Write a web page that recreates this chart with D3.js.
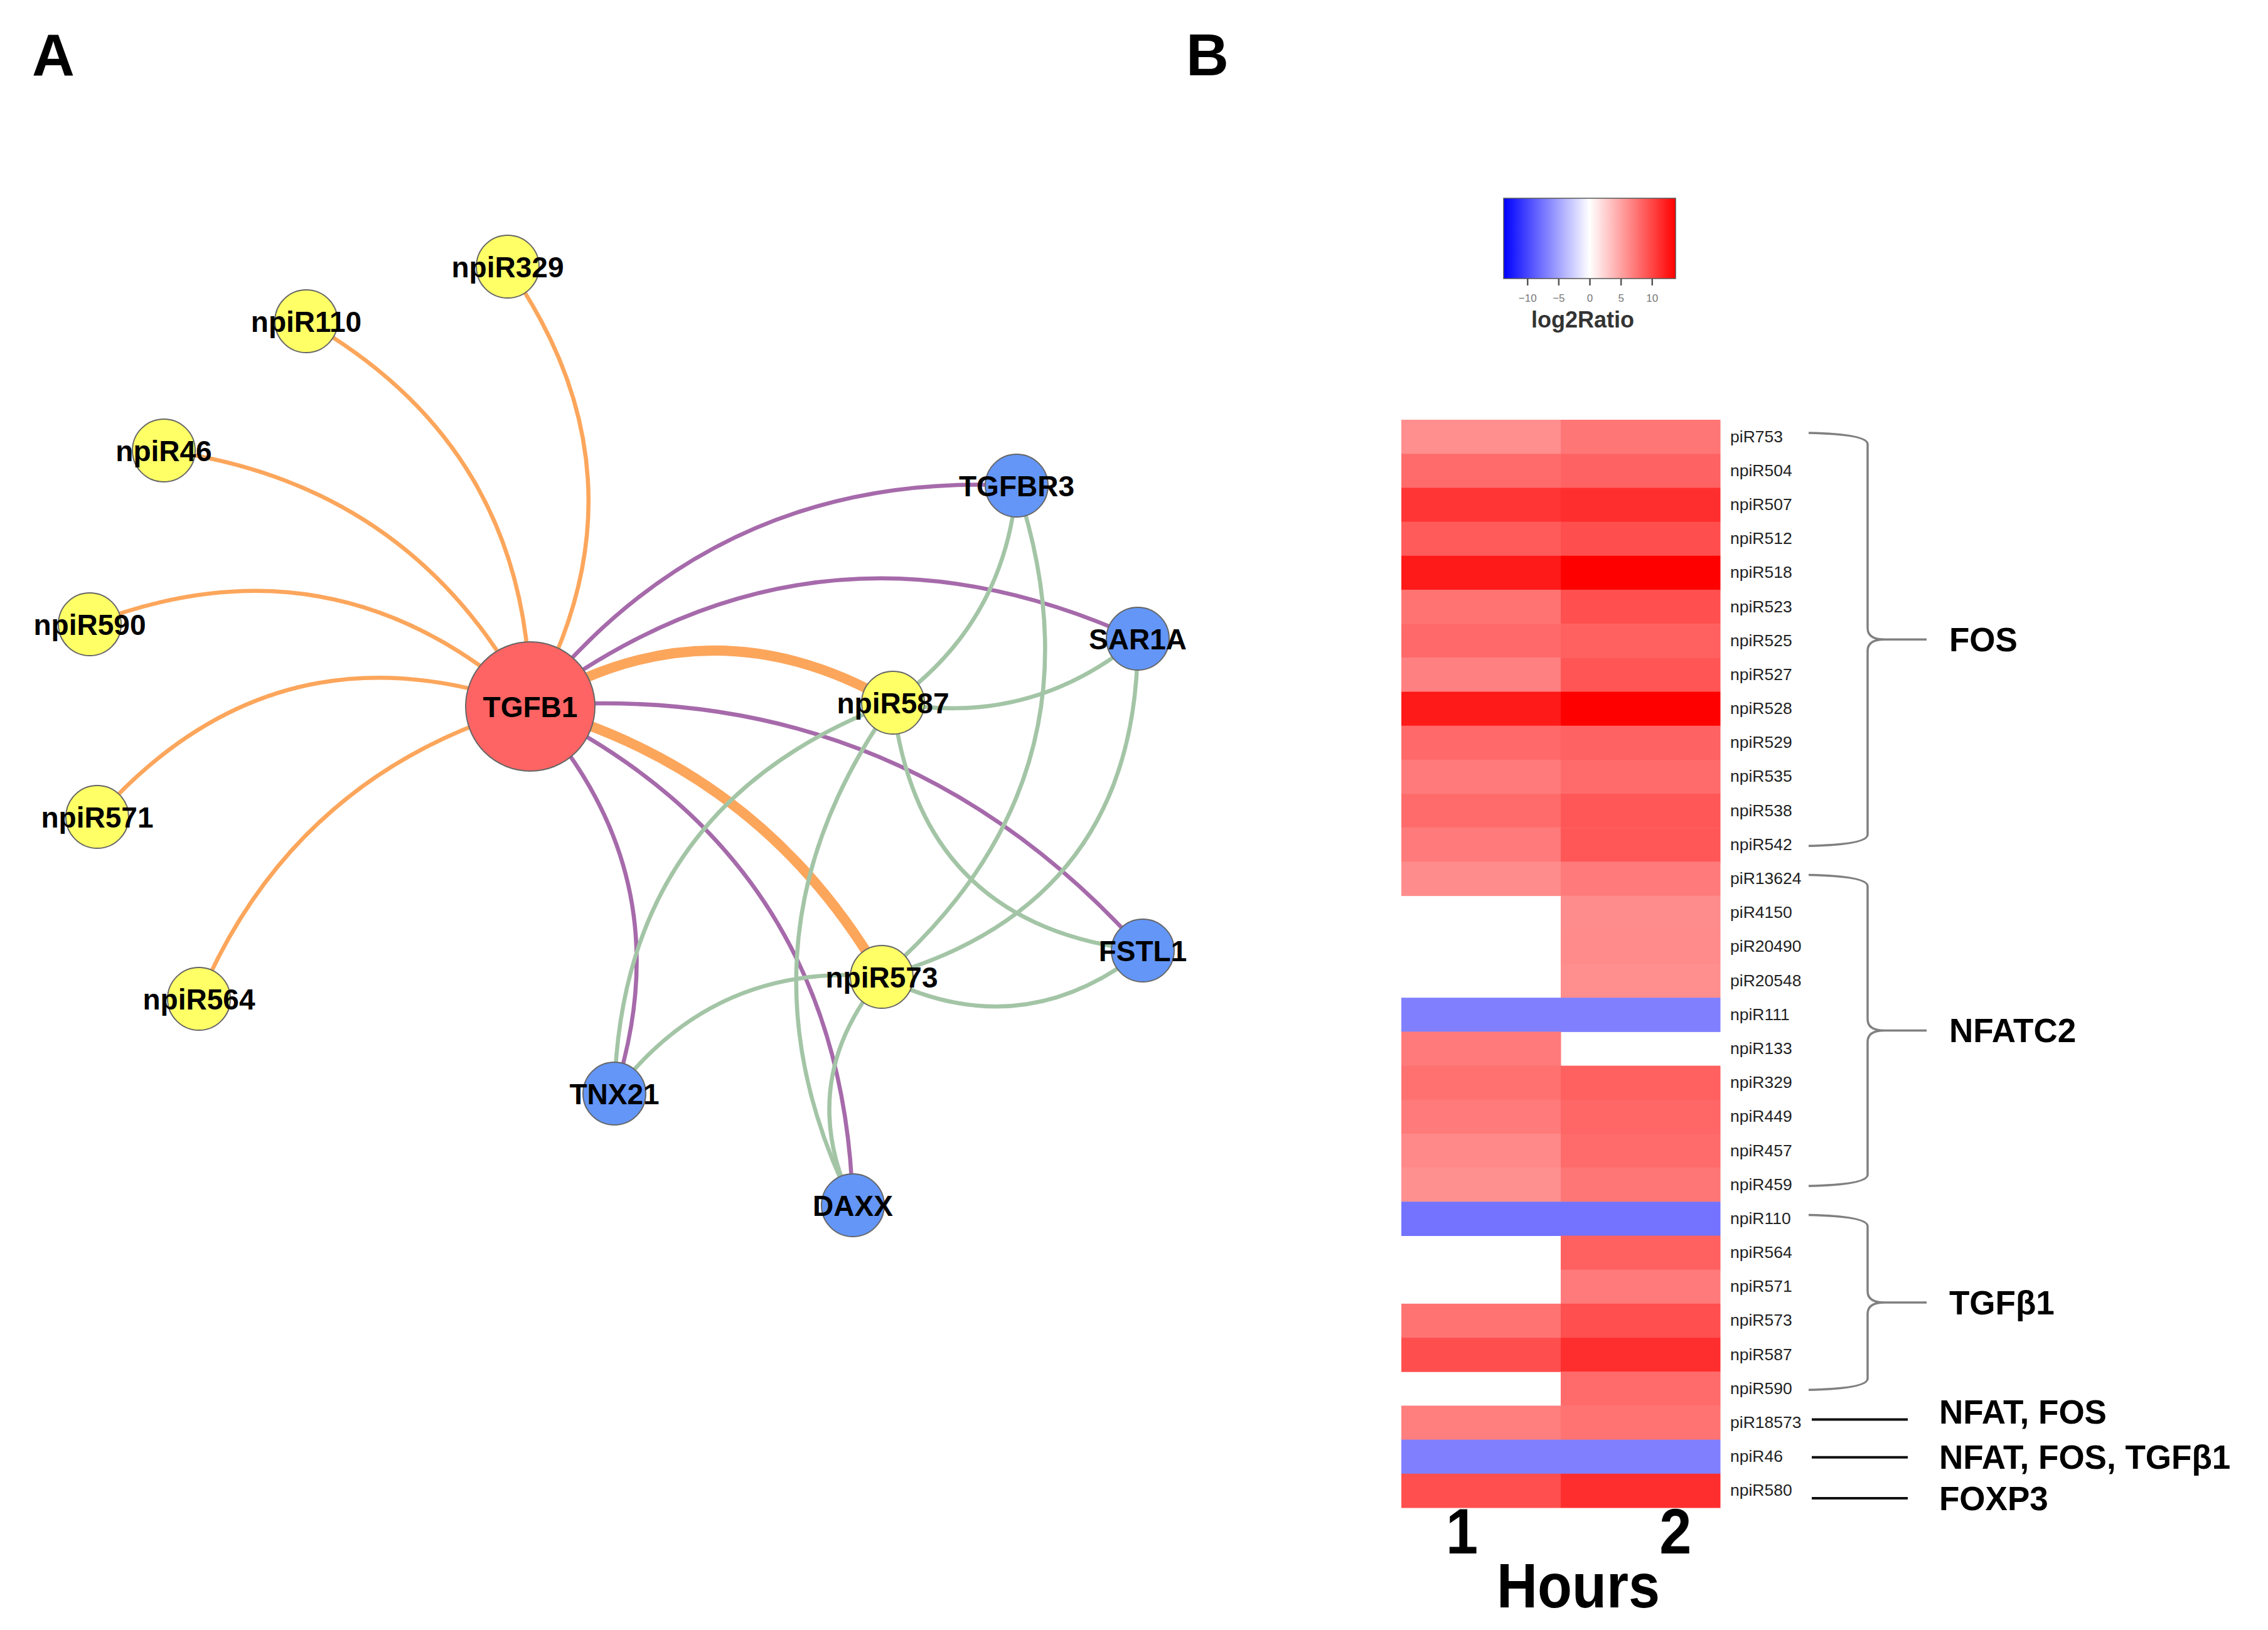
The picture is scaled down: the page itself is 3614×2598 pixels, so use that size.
<!DOCTYPE html>
<html><head><meta charset="utf-8">
<script src="https://cdn.jsdelivr.net/npm/d3@7"></script>
<style>body{margin:0;background:#fff}svg{display:block}</style>
</head><body>
<script>
// ---------- Panel A: network data ----------
const nodeNames = ["TGFB1","npiR329","npiR110","npiR46","npiR590","npiR571","npiR564","npiR587","npiR573","TGFBR3","SAR1A","FSTL1","TNX21","DAXX"];
const nodeKinds = ["hub","mirna","mirna","mirna","mirna","mirna","mirna","mirna","mirna","gene","gene","gene","gene","gene"];
// layout coordinates (layout units)
const nodeX = [84.5, 80.9, 48.8, 26.1, 14.3, 15.5, 31.7, 142.3, 140.5, 162.0, 181.3, 182.1, 97.9, 135.9];
const nodeY = [112.6, 42.5, 51.2, 71.8, 99.5, 130.2, 159.2, 112.0, 155.7, 77.4, 101.8, 151.5, 174.3, 192.1];

const edgeSource = ["npiR329","npiR110","npiR46","npiR590","npiR571","npiR564",
  "TGFB1","TGFB1",
  "TGFB1","TGFB1","TGFB1","TGFB1","TGFB1",
  "TGFBR3","TGFBR3","SAR1A","SAR1A","FSTL1","FSTL1","TNX21","TNX21","DAXX","DAXX"];
const edgeTarget = ["TGFB1","TGFB1","TGFB1","TGFB1","TGFB1","TGFB1",
  "npiR587","npiR573",
  "TGFBR3","SAR1A","FSTL1","TNX21","DAXX",
  "npiR587","npiR573","npiR587","npiR573","npiR587","npiR573","npiR587","npiR573","npiR587","npiR573"];
const edgeType = ["mirna","mirna","mirna","mirna","mirna","mirna",
  "mirna","mirna",
  "gene","gene","gene","gene","gene",
  "target","target","target","target","target","target","target","target","target","target"];
const edgeWeight = [1,1,1,1,1,1, 2,2, 1,1,1,1,1, 1,1,1,1,1,1,1,1,1,1];
const edgeBend = [0.157,0.145,0.13,0.155,0.17,0.12, 0.149,0.103, 0.13,0.15,0.125,0.146,0.152,
  0.116,0.167,0.117,0.19,0.2,0.16,0.17,0.14,0.15,0.16];

// ---------- Panel B: heatmap data ----------
const rows = ["piR753","npiR504","npiR507","npiR512","npiR518","npiR523","npiR525","npiR527","npiR528","npiR529","npiR535","npiR538","npiR542",
  "piR13624","piR4150","piR20490","piR20548","npiR111","npiR133","npiR329","npiR449","npiR457","npiR459",
  "npiR110","npiR564","npiR571","npiR573","npiR587","npiR590","piR18573","npiR46","npiR580"];
const hours = ["1","2"];
const hour1 = [6.1,8.0,11.0,8.9,12.4,7.6,8.1,6.9,12.4,8.1,7.2,8.0,7.2,
  6.2,null,null,null,-6.9,7.2,7.7,7.2,6.4,6.0,
  -7.6,null,null,7.6,9.6,null,7.0,-6.9,9.5];
const hour2 = [7.4,8.5,11.3,9.6,13.8,9.5,8.6,9.2,13.8,8.5,8.0,9.1,9.1,
  7.2,6.2,6.3,6.1,-6.9,null,8.6,8.3,8.0,7.4,
  -7.6,8.6,7.2,9.5,11.3,8.0,7.6,-6.9,11.3];
const legendTicks = [-10,-5,0,5,10];
const braceLabels = ["FOS","NFATC2","TGFβ1"];
const braceFrom = ["piR753","piR13624","npiR110"];
const braceTo = ["npiR542","npiR459","npiR590"];
const lineLabels = ["NFAT, FOS","NFAT, FOS, TGFβ1","FOXP3"];
const lineRows = ["piR18573","npiR46","npiR580"];

// ---------- drawing ----------
const W = 3614, H = 2598;
const FONT = "'Liberation Sans', Arial, Helvetica, sans-serif";
const svg = d3.select("body").append("svg").attr("width", W).attr("height", H)
  .style("font-family", FONT);

// panel letters
svg.append("text").attr("x", 85).attr("y", 121).attr("text-anchor","middle")
  .attr("font-size", 94).attr("font-weight","bold").text("A");
svg.append("text").attr("x", 1924).attr("y", 120).attr("text-anchor","middle")
  .attr("font-size", 94).attr("font-weight","bold").text("B");

// network
const sx = d3.scaleLinear().domain([0, 100]).range([0, 1000]);
const sy = d3.scaleLinear().domain([0, 100]).range([0, 1000]);
const nodes = nodeNames.map((n,i)=>({name:n, kind:nodeKinds[i], x:sx(nodeX[i]), y:sy(nodeY[i])}));
const byName = new Map(nodes.map(d=>[d.name,d]));
const edges = edgeSource.map((s,i)=>({s:byName.get(s), t:byName.get(edgeTarget[i]), type:edgeType[i], w:edgeWeight[i], bend:edgeBend[i]}));

const edgeColor = d3.scaleOrdinal().domain(["mirna","gene","target"]).range(["#fca65c","#a66aab","#a3c5a6"]);
const edgeWidth = d3.scaleOrdinal().domain([1,2]).range([6.5,16]);
const nodeFill = d3.scaleOrdinal().domain(["hub","mirna","gene"]).range(["#ff6464","#ffff66","#6396f7"]);
const nodeR = d3.scaleOrdinal().domain(["hub","mirna","gene"]).range([103,50,50]);

function edgePath(e){
  const dx = e.t.x - e.s.x, dy = e.t.y - e.s.y;
  const L = Math.hypot(dx,dy);
  const nx = dy/L, ny = -dx/L;
  const k = 2*e.bend*L;
  const cx = (e.s.x+e.t.x)/2 + nx*k, cy = (e.s.y+e.t.y)/2 + ny*k;
  const p = d3.path();
  p.moveTo(e.s.x, e.s.y);
  p.quadraticCurveTo(cx, cy, e.t.x, e.t.y);
  return p.toString();
}
const gNet = svg.append("g");
gNet.selectAll("path.edge").data(edges).join("path").attr("class","edge")
  .attr("d", edgePath).attr("fill","none")
  .attr("stroke", d=>edgeColor(d.type)).attr("stroke-width", d=>edgeWidth(d.w));
gNet.selectAll("circle.node").data(nodes).join("circle").attr("class","node")
  .attr("cx", d=>d.x).attr("cy", d=>d.y).attr("r", d=>nodeR(d.kind))
  .attr("fill", d=>nodeFill(d.kind)).attr("stroke","#666").attr("stroke-width",2);
gNet.selectAll("text.nlabel").data(nodes).join("text").attr("class","nlabel")
  .attr("x", d=>d.x).attr("y", d=>d.y).attr("dy","0.36em").attr("text-anchor","middle")
  .attr("font-size", 46).attr("font-weight","bold").attr("fill","#000").text(d=>d.name);

// heatmap
const x = d3.scaleBand().domain(hours).range([2233, 2741]);
const y = d3.scaleBand().domain(rows).range([669, 2403]);
const color = d3.scaleLinear().domain([-13.8,0,13.8]).range(["#0000ff","#ffffff","#ff0000"]);
const cells = [];
rows.forEach((r,i)=>{
  if (hour1[i] !== null) cells.push({r, h:"1", v:hour1[i]});
  if (hour2[i] !== null) cells.push({r, h:"2", v:hour2[i]});
});
const gHeat = svg.append("g");
gHeat.selectAll("rect").data(cells).join("rect")
  .attr("x", d=>x(d.h)).attr("y", d=>y(d.r))
  .attr("width", x.bandwidth()+0.5).attr("height", y.bandwidth()+0.5)
  .attr("fill", d=>color(d.v));

// row labels
const yAxis = svg.append("g").attr("transform", `translate(${x.range()[1]},0)`)
  .call(d3.axisRight(y).tickSize(0).tickPadding(16));
yAxis.select(".domain").remove();
yAxis.selectAll("text").attr("font-size", 26.5).attr("font-family", FONT).attr("fill","#222");

// column labels
const colOffset = [0.38, 0.72];
svg.selectAll("text.col").data(hours).join("text").attr("class","col")
  .attr("text-anchor","middle")
  .attr("transform", (d,i)=>`translate(${x(d)+x.bandwidth()*colOffset[i]},2476) scale(1,1.1)`)
  .attr("font-size", 92).attr("font-weight","bold").text(d=>d);
svg.append("text").attr("text-anchor","middle")
  .attr("transform", `translate(2515,2562) scale(1,1.12)`)
  .attr("font-size", 90).attr("font-weight","bold").text("Hours");

// legend
const lx = d3.scaleLinear().domain([-13.8,13.8]).range([2396,2670]);
const defs = svg.append("defs");
const grad = defs.append("linearGradient").attr("id","lg").attr("x1","0%").attr("x2","100%");
d3.range(0,1.0001,0.1).forEach(t=>{
  grad.append("stop").attr("offset", (t*100)+"%").attr("stop-color", color(-13.8+27.6*t));
});
svg.append("rect").attr("x", lx(-13.8)).attr("y", 316).attr("width", lx(13.8)-lx(-13.8)).attr("height", 128)
  .attr("fill","url(#lg)").attr("stroke","#555").attr("stroke-width",1.5);
const lAxis = svg.append("g").attr("transform","translate(0,444)")
  .call(d3.axisBottom(lx).tickValues(legendTicks).tickSize(11).tickPadding(14));
lAxis.select(".domain").remove();
lAxis.selectAll("line").attr("stroke","#555").attr("stroke-width",2.5);
lAxis.selectAll("text").attr("font-size",17).attr("font-family",FONT).attr("fill","#777");
svg.append("text").attr("x", 2522).attr("y", 522).attr("text-anchor","middle")
  .attr("font-size", 36).attr("font-weight","bold").attr("fill","#333").text("log2Ratio");

// braces
const bx0 = 2882, bxV = 2976, bxTip = 3070, r = 18;
braceLabels.forEach((lab,i)=>{
  const yT = y(braceFrom[i]) + y.bandwidth()/2 - 6;
  const yB = y(braceTo[i]) + y.bandwidth()/2 + 2;
  const yM = (yT+yB)/2;
  const p = d3.path();
  p.moveTo(bx0, yT);
  p.quadraticCurveTo(bxV, yT+2, bxV, yT+r);
  p.lineTo(bxV, yM-r);
  p.quadraticCurveTo(bxV, yM, bxV+r*1.5, yM);
  p.lineTo(bxTip, yM);
  p.moveTo(bxV+r*1.5, yM);
  p.quadraticCurveTo(bxV, yM, bxV, yM+r);
  p.lineTo(bxV, yB-r);
  p.quadraticCurveTo(bxV, yB-2, bx0, yB);
  svg.append("path").attr("d", p.toString()).attr("fill","none")
    .attr("stroke","#808080").attr("stroke-width",3.5);
  svg.append("text").attr("x", bxTip+36).attr("y", yM)
    .attr("dy","0.36em").attr("font-size",53).attr("font-weight","bold").text(lab);
});
// per-line vertical nudges (layout only)
const lineNudge = [-5, 1, 12];
const textNudge = [-18, 0, 12];
lineLabels.forEach((lab,i)=>{
  const yc = y(lineRows[i]) + y.bandwidth()/2;
  svg.append("line").attr("x1", 2887).attr("x2", 3040).attr("y1", yc+lineNudge[i]).attr("y2", yc+lineNudge[i])
    .attr("stroke","#111").attr("stroke-width",4);
  svg.append("text").attr("x", 3090).attr("y", yc+textNudge[i])
    .attr("dy","0.36em").attr("font-size",53).attr("font-weight","bold").text(lab);
});
</script>
</body></html>
